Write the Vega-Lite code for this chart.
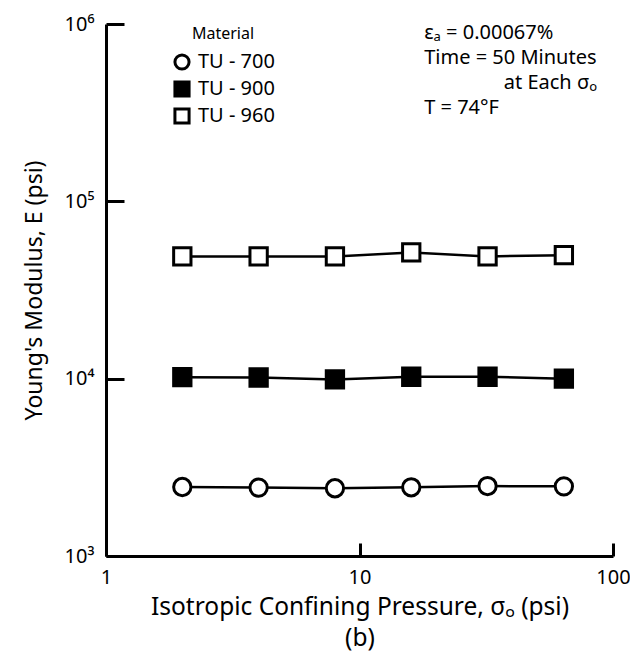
{
  "$schema": "https://vega.github.io/schema/vega-lite/v6.json",
  "width": 507,
  "height": 532,
  "autosize": "none",
  "padding": {"left": 106, "top": 24, "right": 17, "bottom": 102},
  "background": "white",
  "config": {
    "view": {"stroke": null},
    "font": "Noto Sans",
    "axis": {
      "domainColor": "black",
      "domainWidth": 3,
      "tickColor": "black",
      "tickWidth": 3,
      "grid": false,
      "labelColor": "black",
      "titleColor": "black",
      "labelFont": "Noto Sans",
      "titleFont": "Noto Sans",
      "labelFontSize": 20,
      "titleFontSize": 23,
      "titleFontWeight": "normal"
    },
    "legend": {
      "titleFont": "Noto Sans",
      "labelFont": "Noto Sans",
      "titleFontWeight": "normal",
      "titleColor": "black",
      "labelColor": "black",
      "symbolStrokeWidth": 3
    }
  },
  "datasets": {
    "moduli": [
      {"material": "TU - 700", "pressure": 2, "modulus": 2450},
      {"material": "TU - 700", "pressure": 4, "modulus": 2430},
      {"material": "TU - 700", "pressure": 8, "modulus": 2410},
      {"material": "TU - 700", "pressure": 16, "modulus": 2440},
      {"material": "TU - 700", "pressure": 32, "modulus": 2480},
      {"material": "TU - 700", "pressure": 64, "modulus": 2470},
      {"material": "TU - 900", "pressure": 2, "modulus": 10200},
      {"material": "TU - 900", "pressure": 4, "modulus": 10150},
      {"material": "TU - 900", "pressure": 8, "modulus": 9900},
      {"material": "TU - 900", "pressure": 16, "modulus": 10250},
      {"material": "TU - 900", "pressure": 32, "modulus": 10250},
      {"material": "TU - 900", "pressure": 64, "modulus": 10000},
      {"material": "TU - 960", "pressure": 2, "modulus": 48900},
      {"material": "TU - 960", "pressure": 4, "modulus": 48900},
      {"material": "TU - 960", "pressure": 8, "modulus": 48900},
      {"material": "TU - 960", "pressure": 16, "modulus": 51500},
      {"material": "TU - 960", "pressure": 32, "modulus": 48900},
      {"material": "TU - 960", "pressure": 64, "modulus": 49700}
    ],
    "single": [{}]
  },
  "layer": [
    {
      "data": {"name": "moduli"},
      "mark": {"type": "line", "color": "black", "strokeWidth": 2.5},
      "encoding": {
        "x": {
          "field": "pressure",
          "type": "quantitative",
          "scale": {"type": "log", "domain": [1, 100]},
          "axis": {
            "values": [1, 10, 100],
            "labelExpr": "format(datum.value, 'd')",
            "tickSize": -13,
            "labelPadding": 24,
            "labelFlush": false,
            "title": ["Isotropic Confining Pressure, σₒ (psi)", "(b)"],
            "titleFontSize": 24.5,
            "titleLineHeight": 31,
            "titlePadding": 8
          }
        },
        "y": {
          "field": "modulus",
          "type": "quantitative",
          "scale": {"type": "log", "domain": [1000, 1000000]},
          "axis": {
            "values": [1000, 10000, 100000, 1000000],
            "labelExpr": "datum.value == 1000 ? '10³' : datum.value == 10000 ? '10⁴' : datum.value == 100000 ? '10⁵' : '10⁶'",
            "tickSize": -18,
            "labelPadding": 30,
            "labelFlush": false,
            "title": "Young's Modulus, E (psi)",
            "titlePadding": 18
          }
        },
        "detail": {"field": "material"}
      }
    },
    {
      "data": {"name": "moduli"},
      "mark": {"type": "point", "filled": true, "strokeWidth": 3, "opacity": 1, "size": 300},
      "encoding": {
        "x": {"field": "pressure", "type": "quantitative"},
        "y": {"field": "modulus", "type": "quantitative"},
        "shape": {
          "field": "material",
          "type": "nominal",
          "scale": {"domain": ["TU - 700", "TU - 900", "TU - 960"], "range": ["circle", "square", "square"]},
          "legend": {
            "title": "Material",
            "orient": "none",
            "legendX": 66,
            "legendY": 2,
            "titleFontSize": 16,
            "labelFontSize": 20,
            "titleAnchor": "middle",
            "titlePadding": 10,
            "symbolSize": 200,
            "rowPadding": -1,
            "labelOffset": 6
          }
        },
        "fill": {
          "field": "material",
          "type": "nominal",
          "scale": {"domain": ["TU - 700", "TU - 900", "TU - 960"], "range": ["white", "black", "white"]},
          "legend": {
            "title": "Material",
            "orient": "none",
            "legendX": 66,
            "legendY": 2
          }
        },
        "stroke": {
          "field": "material",
          "type": "nominal",
          "scale": {"domain": ["TU - 700", "TU - 900", "TU - 960"], "range": ["black", "black", "black"]},
          "legend": {
            "title": "Material",
            "orient": "none",
            "legendX": 66,
            "legendY": 2
          }
        }
      }
    },
    {
      "data": {"name": "single"},
      "mark": {"type": "text", "align": "left", "baseline": "middle", "fontSize": 20, "lineHeight": 25, "fill": "black", "font": "Noto Sans"},
      "encoding": {
        "x": {"datum": 18},
        "y": {"datum": 889000},
        "text": {"value": ["εₐ = 0.00067%", "Time = 50 Minutes"]}
      }
    },
    {
      "data": {"name": "single"},
      "mark": {"type": "text", "align": "right", "baseline": "middle", "fontSize": 20, "fill": "black", "font": "Noto Sans"},
      "encoding": {
        "x": {"datum": 86.5},
        "y": {"datum": 464000},
        "text": {"value": "at Each σₒ"}
      }
    },
    {
      "data": {"name": "single"},
      "mark": {"type": "text", "align": "left", "baseline": "middle", "fontSize": 20, "fill": "black", "font": "Noto Sans"},
      "encoding": {
        "x": {"datum": 18},
        "y": {"datum": 335000},
        "text": {"value": "T = 74°F"}
      }
    }
  ]
}
